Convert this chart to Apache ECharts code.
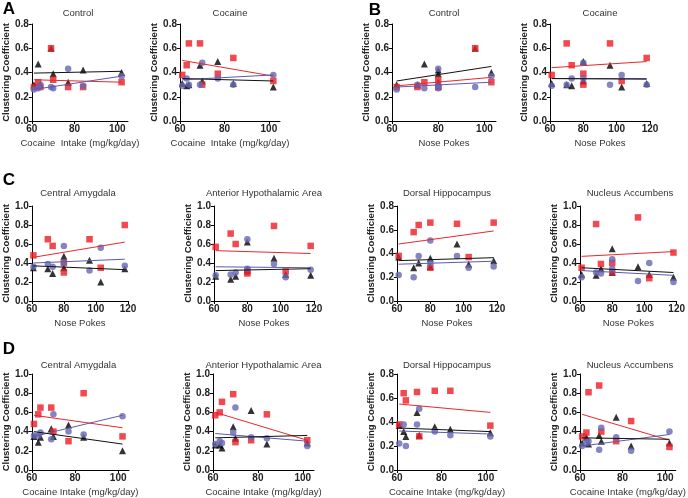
<!DOCTYPE html>
<html><head><meta charset="utf-8">
<script src="https://cdn.jsdelivr.net/npm/echarts@6/dist/echarts.min.js"></script>
<style>html,body{margin:0;padding:0;background:#fff}#c{width:688px;height:498px}</style>
</head><body><div id="c"></div><script>
// ---- x values per animal (animal order = ascending cocaine intake) ----
const intakeX   = [61, 63, 64, 69, 70, 77, 84, 102];
const pokesCocX = [61, 73, 70, 96, 80, 80, 118, 103];
const pokesCtlX = [62, 74, 71, 96, 80, 80, 80, 103];

// ---- clustering coefficients (red squares / blue circles / black triangles) ----
const ctlRed   = [0.28, 0.32, 0.28, 0.60, 0.34, 0.28, 0.28, 0.32];
const ctlBlue  = [0.26, 0.27, 0.30, 0.28, 0.27, 0.43, 0.29, 0.37];
const ctlBlack = [0.30, 0.47, 0.30, 0.60, 0.39, 0.32, 0.42, 0.40];
const cocRed   = [0.38, 0.46, 0.64, 0.64, 0.30, 0.39, 0.52, 0.33];
const cocBlue  = [0.29, 0.35, 0.30, 0.30, 0.48, 0.35, 0.30, 0.38];
const cocBlack = [0.31, 0.29, 0.30, 0.46, 0.33, 0.49, 0.31, 0.28];
const ceaRed   = [0.48, 0.58, 0.65, 0.65, 0.40, 0.30, 0.80, 0.35];
const ceaBlue  = [0.36, 0.36, 0.39, 0.32, 0.58, 0.40, 0.37, 0.56];
const ceaBlack = [0.35, 0.29, 0.34, 0.43, 0.35, 0.47, 0.34, 0.20];
const ahaRed   = [0.57, 0.60, 0.71, 0.79, 0.29, 0.31, 0.58, 0.31];
const ahaBlue  = [0.27, 0.30, 0.28, 0.39, 0.65, 0.34, 0.33, 0.25];
const ahaBlack = [0.26, 0.26, 0.23, 0.45, 0.33, 0.62, 0.27, 0.28];
const dhRed    = [0.38, 0.64, 0.58, 0.65, 0.28, 0.66, 0.66, 0.37];
const dhBlue   = [0.22, 0.38, 0.20, 0.38, 0.51, 0.32, 0.29, 0.28];
const dhBlack  = [0.37, 0.32, 0.28, 0.48, 0.29, 0.36, 0.34, 0.31];
const nacRed   = [0.35, 0.39, 0.81, 0.88, 0.40, 0.30, 0.51, 0.24];
const nacBlue  = [0.25, 0.29, 0.30, 0.21, 0.44, 0.34, 0.20, 0.40];
const nacBlack = [0.28, 0.34, 0.27, 0.36, 0.30, 0.55, 0.25, 0.28];

// ---- regression line ends [y at lowest x, y at highest x] : red, blue, black ----
const fitA1 = [[0.34, 0.32], [0.26, 0.37], [0.395, 0.41]];
const fitA2 = [[0.50, 0.37], [0.34, 0.38], [0.35, 0.33]];
const fitB1 = [[0.29, 0.36], [0.28, 0.32], [0.33, 0.45]];
const fitB2 = [[0.44, 0.49], [0.35, 0.35], [0.35, 0.345]];
const fitC1 = [[0.46, 0.62], [0.40, 0.44], [0.37, 0.33]];
const fitC2 = [[0.53, 0.50], [0.36, 0.35], [0.32, 0.34]];
const fitC3 = [[0.48, 0.59], [0.31, 0.335], [0.34, 0.365]];
const fitC4 = [[0.47, 0.52], [0.32, 0.27], [0.35, 0.30]];
const fitD1 = [[0.57, 0.44], [0.35, 0.57], [0.40, 0.27]];
const fitD2 = [[0.60, 0.31], [0.38, 0.30], [0.335, 0.36]];
const fitD3 = [[0.55, 0.48], [0.325, 0.30], [0.35, 0.32]];
const fitD4 = [[0.58, 0.31], [0.25, 0.37], [0.335, 0.32]];

// ---- text ----
const titles = ['Control', 'Cocaine', 'Control', 'Cocaine',
  'Central Amygdala', 'Anterior Hypothalamic Area', 'Dorsal Hippocampus', 'Nucleus Accumbens',
  'Central Amygdala', 'Anterior Hypothalamic Area', 'Dorsal Hippocampus', 'Nucleus Accumbens'];
const xNames = ['Cocaine  Intake (mg/kg/day)', 'Cocaine  Intake (mg/kg/day)', 'Nose Pokes', 'Nose Pokes',
  'Nose Pokes', 'Nose Pokes', 'Nose Pokes', 'Nose Pokes',
  'Cocaine Intake (mg/kg/day)', 'Cocaine Intake (mg/kg/day)', 'Cocaine Intake (mg/kg/day)', 'Cocaine Intake (mg/kg/day)'];
const yName = 'Clustering Coefficient';
const letters = ['A', 'B', 'C', 'D'];

// ---- layout ----
const panels = [
  {g:[28,24,100,97],  xmax:105, ymax:0.8, x:intakeX,   d:[ctlRed,ctlBlue,ctlBlack], f:fitA1},
  {g:[180,24,100,97], xmax:105, ymax:0.8, x:intakeX,   d:[cocRed,cocBlue,cocBlack], f:fitA2},
  {g:[392,24,104,97], xmax:105, ymax:0.8, x:pokesCtlX, d:[ctlRed,ctlBlue,ctlBlack], f:fitB1},
  {g:[550,24,100,97], xmax:120, ymax:0.8, x:pokesCocX, d:[cocRed,cocBlue,cocBlack], f:fitB2},
  {g:[28,206,100,95], xmax:120, ymax:1.0, x:pokesCocX, d:[ceaRed,ceaBlue,ceaBlack], f:fitC1},
  {g:[214,206,100,95],xmax:120, ymax:1.0, x:pokesCocX, d:[ahaRed,ahaBlue,ahaBlack], f:fitC2},
  {g:[397,206,100,95],xmax:120, ymax:0.8, x:pokesCocX, d:[dhRed,dhBlue,dhBlack], f:fitC3},
  {g:[580,206,100,95],xmax:120, ymax:1.0, x:pokesCocX, d:[nacRed,nacBlue,nacBlack], f:fitC4},
  {g:[28,374,101,96], xmax:105, ymax:1.0, x:intakeX,   d:[ceaRed,ceaBlue,ceaBlack], f:fitD1},
  {g:[213,374,101,96],xmax:105, ymax:1.0, x:intakeX,   d:[ahaRed,ahaBlue,ahaBlack], f:fitD2},
  {g:[397,374,100,96],xmax:105, ymax:0.8, x:intakeX,   d:[dhRed,dhBlue,dhBlack], f:fitD3},
  {g:[580,374,100,96],xmax:105, ymax:1.0, x:intakeX,   d:[nacRed,nacBlue,nacBlack], f:fitD4}
];
const titleY = [13, 13, 13, 13, 193, 193, 193, 193, 365, 365, 365, 365];
const letterPos = [[9,9],[375,10],[9,180],[9,349]];

const FONT = '"Liberation Sans", Arial, sans-serif';
const RED = '#ec1c24', BLUE = '#6767b2', BLACK = '#000000';
const colors = [RED, BLUE, BLACK];
const symbols = ['rect', 'circle', 'triangle'];
const lineColors = ['#e8282c', '#5a5aae', '#111111'];

const grid = [], xAxis = [], yAxis = [], series = [], graphic = [];
panels.forEach((p, i) => {
  grid.push({left:p.g[0], top:p.g[1], width:p.g[2], height:p.g[3], containLabel:false});
  const axisCommon = {
    gridIndex:i, type:'value',
    axisLine:{show:true, onZero:false, lineStyle:{color:'#000', width:1}},
    axisTick:{show:true, length:3, lineStyle:{color:'#000', width:1}},
    splitLine:{show:false},
    axisLabel:{fontFamily:FONT, fontSize:10, fontWeight:'bold', color:'#222', margin:3}
  };
  xAxis.push(Object.assign({}, axisCommon, {
    min:60, max:p.xmax, interval:20,
    name:xNames[i], nameLocation:'middle', nameGap:17,
    nameTextStyle:{fontFamily:FONT, fontSize:9.5, color:'#333'}
  }));
  yAxis.push(Object.assign({}, axisCommon, {
    min:0, max:p.ymax, interval:0.2,
    axisLabel:Object.assign({}, axisCommon.axisLabel, {formatter:v => v.toFixed(1)}),
    name:yName, nameLocation:'middle', nameGap:19,
    nameTextStyle:{fontFamily:FONT, fontSize:9.5, fontWeight:'bold', color:'#222'}
  }));
  [2, 0, 1].forEach(k => {
    series.push({
      type:'scatter', xAxisIndex:i, yAxisIndex:i, symbol:symbols[k], symbolSize:k===2?7:6.5,
      itemStyle:{color:colors[k]}, silent:true,
      data:p.x.map((xv, j) => [xv, p.d[k][j]])
    });
  });
  const xmin = Math.min(...p.x), xmaxD = Math.max(...p.x);
  [0, 1, 2].forEach(k => {
    series.push({
      type:'line', xAxisIndex:i, yAxisIndex:i, symbol:'none', silent:true,
      lineStyle:{color:lineColors[k], width:1}, z:3,
      data:[[xmin, p.f[k][0]], [xmaxD, p.f[k][1]]]
    });
  });
  graphic.push({
    type:'text', x:p.g[0] + p.g[2] / 2, y:titleY[i],
    style:{text:titles[i], font:'9.5px ' + FONT, fill:'#333', align:'center', verticalAlign:'middle',
           textAlign:'center', textVerticalAlign:'middle'}
  });
});
letters.forEach((t, i) => {
  graphic.push({type:'text', x:letterPos[i][0], y:letterPos[i][1],
    style:{text:t, font:'bold 17px ' + FONT, fill:'#000', align:'center', verticalAlign:'middle',
           textAlign:'center', textVerticalAlign:'middle'}});
});

const chart = echarts.init(document.getElementById('c'), null, {renderer:'canvas'});
chart.setOption({animation:false, backgroundColor:'#fff', grid, xAxis, yAxis, series, graphic});
</script></body></html>
